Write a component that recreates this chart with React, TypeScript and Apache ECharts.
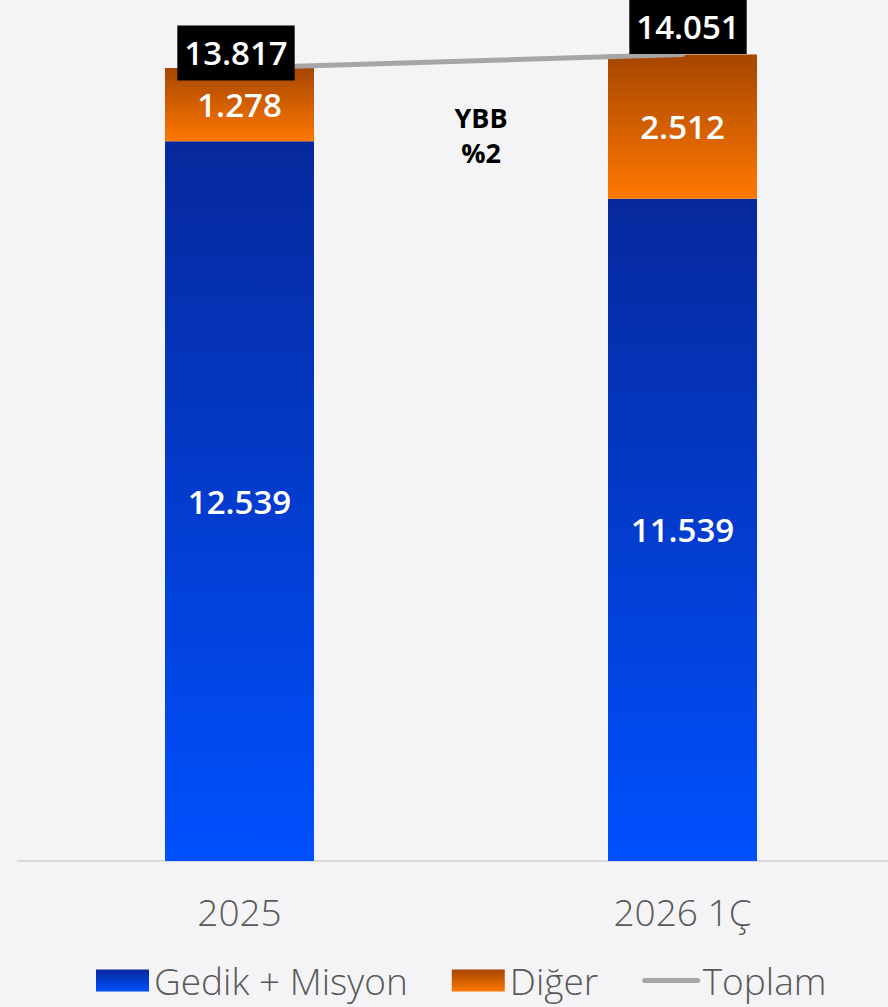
import React, { useEffect, useRef } from "react";
import * as echarts from "echarts";

const categories = ["2025", "2026 1Ç"];
const gedikMisyon = [12539, 11539];
const diger = [1278, 2512];
const toplam = [13817, 14051];
const seriesNames = ["Gedik + Misyon", "Diğer", "Toplam"];
const annotation = "YBB\n%2";

const fmt = (v: number) => {
  const s = Math.round(v).toString();
  return s.replace(/\B(?=(\d{3})+(?!\d))/g, ".");
};

const FONT = "'Open Sans', sans-serif";

export default function App() {
  const ref = useRef<HTMLDivElement>(null);
  useEffect(() => {
    document.body.style.margin = "0";
    document.body.style.background = "#f4f4f7";
    if (!ref.current) return;
    const chart = echarts.init(ref.current, undefined, { renderer: "svg" });
    const blue = new echarts.graphic.LinearGradient(0, 0, 0, 1, [
      { offset: 0, color: "#06289c" },
      { offset: 1, color: "#0050ff" },
    ]);
    const orange = new echarts.graphic.LinearGradient(0, 0, 0, 1, [
      { offset: 0, color: "#a64600" },
      { offset: 1, color: "#ff7800" },
    ]);
    const labelOffsets = [
      [-3.5, 13],
      [5.5, 0],
    ];
    chart.setOption({
      animation: false,
      backgroundColor: "#f4f4f7",
      textStyle: { fontFamily: FONT },
      grid: {
        left: 18,
        top: 0,
        right: -16,
        bottom: 146,
        containLabel: false,
        outerBoundsMode: "none",
      },
      xAxis: {
        type: "category",
        data: categories,
        axisLine: { show: true, lineStyle: { color: "#d9d9dc", width: 2 } },
        axisTick: { show: false },
        axisLabel: {
          color: "#595959",
          fontSize: 37,
          fontWeight: 300,
          fontFamily: FONT,
          lineHeight: 38,
          margin: 31,
        },
      },
      yAxis: { type: "value", min: 0, max: 15000, show: false },
      legend: {
        left: 96,
        top: 962,
        padding: 0,
        itemWidth: 53,
        itemHeight: 22,
        itemGap: 44,
        textStyle: { color: "#595959", fontSize: 37, fontWeight: 300, fontFamily: FONT },
        data: [
          { name: seriesNames[0], icon: "rect" },
          { name: seriesNames[1], icon: "rect" },
          {
            name: seriesNames[2],
            itemStyle: { color: "rgba(0,0,0,0)" },
            lineStyle: { color: "#a6a6a6", width: 5, cap: "round" },
          },
        ],
      },
      graphic: [
        {
          type: "text",
          x: 481,
          y: 135,
          style: {
            text: annotation,
            fontSize: 27,
            fontWeight: "bold",
            fontFamily: FONT,
            lineHeight: 35,
            fill: "#000",
            align: "center",
            verticalAlign: "middle",
          },
        },
      ],
      series: [
        {
          name: seriesNames[0],
          type: "bar",
          stack: "total",
          barWidth: 149,
          data: gedikMisyon,
          itemStyle: { color: blue },
          label: {
            show: true,
            position: "inside",
            color: "#fff",
            fontSize: 33,
            fontWeight: 600,
            fontFamily: FONT,
            formatter: (p: any) => fmt(p.value),
          },
        },
        {
          name: seriesNames[1],
          type: "bar",
          stack: "total",
          barWidth: 149,
          data: diger,
          itemStyle: { color: orange },
          label: {
            show: true,
            position: "inside",
            color: "#fff",
            fontSize: 33,
            fontWeight: 600,
            fontFamily: FONT,
            formatter: (p: any) => fmt(p.value),
          },
        },
        {
          name: seriesNames[2],
          type: "line",
          data: toplam.map((v, i) => ({
            value: v,
            label: { offset: labelOffsets[i] },
          })),
          symbol: "circle",
          symbolSize: 1,
          itemStyle: { color: "rgba(0,0,0,0)" },
          lineStyle: { color: "#a6a6a6", width: 5, cap: "round" },
          z: 5,
          label: {
            show: true,
            position: "top",
            distance: 0,
            color: "#fff",
            backgroundColor: "#000",
            fontSize: 33,
            fontWeight: 600,
            fontFamily: FONT,
            lineHeight: 43,
            padding: [6, 7],
            formatter: (p: any) => fmt(p.value),
          },
        },
      ],
    });
    return () => chart.dispose();
  }, []);
  return <div ref={ref} style={{ width: 888, height: 1007 }} />;
}
